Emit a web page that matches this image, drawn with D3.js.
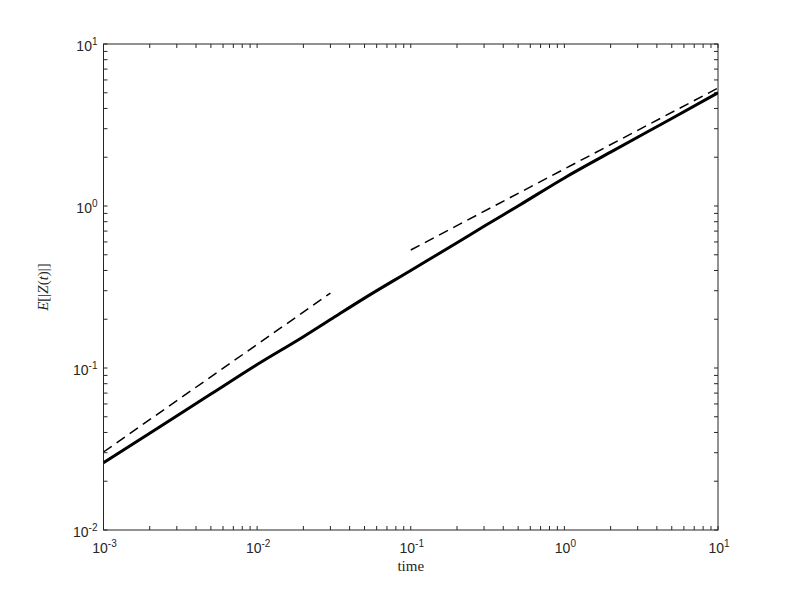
<!DOCTYPE html>
<html><head><meta charset="utf-8">
<script src="https://cdn.jsdelivr.net/npm/d3@7"></script>
<style>body{margin:0;background:#fff}svg{display:block}</style>
</head><body>
<script>
// Data
const solidX = [0.001, 0.002, 0.005, 0.01, 0.02, 0.03, 0.05, 0.1, 0.2, 0.3, 0.5, 1, 2, 5, 10];
const solidY = [0.026, 0.0395, 0.069, 0.105, 0.156, 0.199, 0.27, 0.40, 0.593, 0.75, 1.0, 1.49, 2.15, 3.47, 5.0];
const dash1X = [0.001, 0.03];
const dash1Y = [0.0303, 0.29];
const dash2X = [0.1, 10];
const dash2Y = [0.535, 5.35];
const xTickExps = [-3, -2, -1, 0, 1];
const yTickExps = [-2, -1, 0, 1];
const xLabel = "time";

const W = 793, H = 595;
const L = 103.5, R = 718, T = 44, B = 530;
const svg = d3.select("body").append("svg").attr("width", W).attr("height", H);
const x = d3.scaleLog().domain([1e-3, 1e1]).range([L, R]);
const y = d3.scaleLog().domain([1e-2, 1e1]).range([B, T]);
const axisColor = "#262626";

const xTicks = [], yTicks = [];
for (let e = -3; e <= 1; e++) for (let m = 1; m <= 9; m++) { const v = m * Math.pow(10, e); if (v <= 10 * 1.0001) xTicks.push(v); }
for (let e = -2; e <= 1; e++) for (let m = 1; m <= 9; m++) { const v = m * Math.pow(10, e); if (v <= 10 * 1.0001) yTicks.push(v); }

const tl = 4;
const g = svg.append("g");
g.append("rect").attr("x", L).attr("y", T).attr("width", R - L).attr("height", B - T)
  .attr("fill", "none").attr("stroke", axisColor).attr("stroke-width", 1);

const tg = g.append("g").attr("stroke", axisColor).attr("stroke-width", 1);
xTicks.forEach(v => {
  const px = x(v);
  tg.append("line").attr("x1", px).attr("x2", px).attr("y1", B).attr("y2", B - tl);
  tg.append("line").attr("x1", px).attr("x2", px).attr("y1", T).attr("y2", T + tl);
});
yTicks.forEach(v => {
  const py = y(v);
  tg.append("line").attr("x1", L).attr("x2", L + tl).attr("y1", py).attr("y2", py);
  tg.append("line").attr("x1", R).attr("x2", R - tl).attr("y1", py).attr("y2", py);
});

const font = "'Liberation Sans', Arial, Helvetica, sans-serif";
xTickExps.forEach(e => {
  const t = g.append("text").attr("x", x(Math.pow(10, e)) + 1).attr("y", B + 23)
    .attr("text-anchor", "middle").style("font-family", font).attr("font-size", 14).attr("fill", axisColor);
  t.append("tspan").text("10");
  t.append("tspan").attr("dy", -6).attr("font-size", 10).text(String(e));
});
yTickExps.forEach(e => {
  const t = g.append("text").attr("x", L - 6).attr("y", y(Math.pow(10, e)) + 7)
    .attr("text-anchor", "end").style("font-family", font).attr("font-size", 14).attr("fill", axisColor);
  t.append("tspan").text("10");
  t.append("tspan").attr("dy", -6).attr("font-size", 10).text(String(e));
});

const serif = "'Liberation Serif', 'DejaVu Serif', serif";
g.append("text").attr("x", (L + R) / 2).attr("y", B + 41).attr("text-anchor", "middle")
  .style("font-family", serif).attr("font-size", 15).attr("fill", axisColor).text(xLabel);
const yl = g.append("text").attr("transform", `translate(48,${(T + B) / 2}) rotate(-90)`)
  .attr("text-anchor", "middle").style("font-family", serif).attr("font-size", 15).attr("fill", axisColor);
yl.append("tspan").style("font-style", "italic").text("E");
yl.append("tspan").text("[|");
yl.append("tspan").style("font-style", "italic").text("Z");
yl.append("tspan").text("(");
yl.append("tspan").style("font-style", "italic").text("t");
yl.append("tspan").text(")|]");

const line = d3.line().x(d => x(d[0])).y(d => y(d[1])).curve(d3.curveMonotoneX);
const lineStraight = d3.line().x(d => x(d[0])).y(d => y(d[1]));
svg.append("clipPath").attr("id", "c").append("rect").attr("x", L).attr("y", T).attr("width", R - L).attr("height", B - T);
const pg = svg.append("g").attr("clip-path", "url(#c)");
pg.append("path").datum(solidX.map((v, i) => [v, solidY[i]])).attr("d", line)
  .attr("fill", "none").attr("stroke", "#000").attr("stroke-width", 3).attr("stroke-linejoin", "round");
pg.append("path").datum(dash1X.map((v, i) => [v, dash1Y[i]])).attr("d", lineStraight)
  .attr("fill", "none").attr("stroke", "#000").attr("stroke-width", 1.5).attr("stroke-dasharray", "10,6");
pg.append("path").datum(dash2X.map((v, i) => [v, dash2Y[i]])).attr("d", lineStraight)
  .attr("fill", "none").attr("stroke", "#000").attr("stroke-width", 1.5).attr("stroke-dasharray", "10,6");
</script>
</body></html>
